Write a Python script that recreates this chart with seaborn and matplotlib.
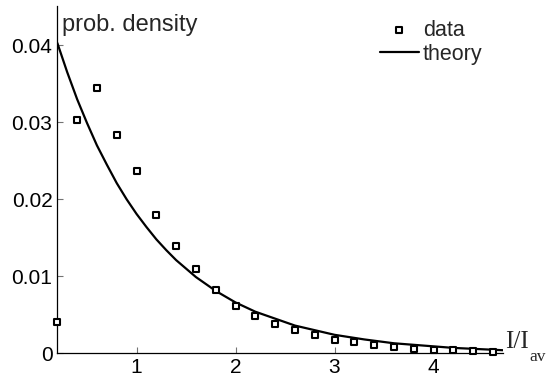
import numpy as np
import pandas as pd
import matplotlib
matplotlib.use("Agg")
import matplotlib.pyplot as plt
import seaborn as sns

# ---- data ----
data_x = [0.2, 0.4, 0.6, 0.8, 1.0, 1.2, 1.4, 1.6, 1.8, 2.0, 2.2, 2.4,
          2.6, 2.8, 3.0, 3.2, 3.4, 3.6, 3.8, 4.0, 4.2, 4.4, 4.6]
data_y = [0.0040, 0.0303, 0.0345, 0.0284, 0.0237, 0.0179, 0.0139, 0.01095,
          0.0082, 0.0062, 0.00484, 0.00385, 0.00307, 0.00234, 0.00173,
          0.00143, 0.00104, 0.00086, 0.0006, 0.00047, 0.00039, 0.00026, 0.0002]

theory_x = [0.2, 0.3, 0.4, 0.5, 0.6, 0.7, 0.8, 0.9, 1.0, 1.1, 1.2, 1.3, 1.4,
            1.5, 1.6, 1.8, 2.0, 2.2, 2.4, 2.6, 2.8, 3.0, 3.3, 3.6, 3.9, 4.2, 4.7]
theory_y = [0.0403, 0.0365, 0.0330, 0.0299, 0.0270, 0.0245, 0.0221, 0.0200,
            0.0181, 0.0164, 0.0148, 0.0134, 0.0121, 0.0110, 0.0099, 0.0081,
            0.0066, 0.0054, 0.0045, 0.0036, 0.0030, 0.0024, 0.0018, 0.0013,
            0.0010, 0.0007, 0.0004]

x_ticks = [1, 2, 3, 4]
x_tick_labels = ["1", "2", "3", "4"]
y_ticks = [0, 0.01, 0.02, 0.03, 0.04]
y_tick_labels = ["0", "0.01", "0.02", "0.03", "0.04"]

df_data = pd.DataFrame({"x": data_x, "y": data_y})
df_theory = pd.DataFrame({"x": theory_x, "y": theory_y})

sns.set_style("ticks")
plt.rcParams["font.family"] = ["Liberation Sans", "DejaVu Sans"]

W, H = 547, 376
fig = plt.figure(figsize=(W / 100, H / 100), dpi=100)
ax = fig.add_axes([0.1048, 0.0604, 0.8145, 0.9236])

sns.scatterplot(data=df_data, x="x", y="y", ax=ax, marker="s", s=18,
                facecolor="white", edgecolor="black", linewidth=1.5,
                label="data", zorder=3, clip_on=False)
sns.lineplot(data=df_theory, x="x", y="y", ax=ax, color="black",
             linewidth=1.6, label="theory", zorder=2)

ax.set_xlim(0.2, 4.7)
ax.set_ylim(0, 0.0451)
ax.set_xticks(x_ticks)
ax.set_xticklabels(x_tick_labels)
ax.set_yticks(y_ticks)
ax.set_yticklabels(y_tick_labels)
ax.tick_params(direction="in", length=4, width=0.8, color="0.45",
               labelsize=15, labelcolor="black")
ax.tick_params(axis="x", pad=3.2)
ax.tick_params(axis="y", pad=3.5)
for side in ("top", "right"):
    ax.spines[side].set_visible(False)
for side in ("left", "bottom"):
    ax.spines[side].set_linewidth(0.9)
    ax.spines[side].set_color("black")

ax.set_ylabel("prob. density", rotation=0, ha="left", va="baseline",
              fontsize=17)
ax.yaxis.set_label_coords(0.011, 0.928)
ax.set_xlabel("")

fig.text(505 / W, 1 - 348.3 / H, "I/I", family="Liberation Serif",
         fontsize=18, ha="left", va="baseline")
fig.text(529.5 / W, 1 - 361 / H, "av", family="Liberation Serif",
         fontsize=12.5, ha="left", va="baseline")

leg = ax.legend(loc="upper left", bbox_to_anchor=(369 / W, 1 - 9 / H),
                bbox_transform=fig.transFigure, frameon=False, fontsize=15.5,
                borderpad=0, handlelength=1.8, handletextpad=0.2,
                labelspacing=0.15, markerscale=1.0)

fig.savefig("out.png", dpi=100)
